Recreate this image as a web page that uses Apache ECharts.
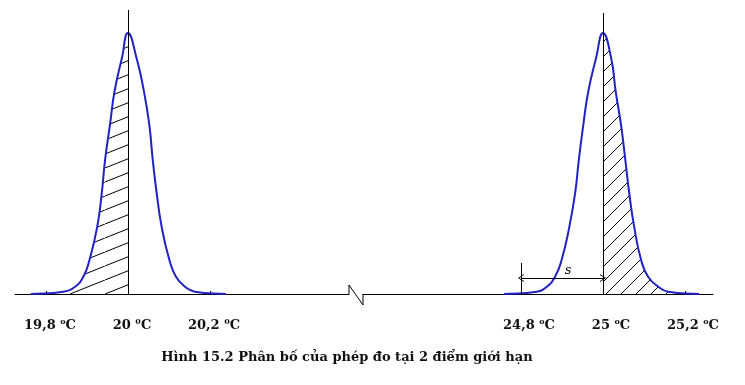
<!DOCTYPE html>
<html>
<head>
<meta charset="utf-8">
<script src="https://cdn.jsdelivr.net/npm/echarts@6/dist/echarts.min.js"></script>
<style>html,body{margin:0;padding:0;background:#fff}#c{width:745px;height:385px}</style>
</head>
<body>
<div id="c"></div>
<script>
// ---- data ----
const leftTemps  = [19.763, 19.842, 19.871, 19.891, 19.906, 19.925, 19.936, 19.944, 19.956, 19.967, 19.985, 20.000,
                    20.021, 20.039, 20.052, 20.060, 20.070, 20.082, 20.101, 20.117, 20.139, 20.163, 20.239];
const leftHeights = [0, 0.009, 0.028, 0.066, 0.130, 0.258, 0.386, 0.513, 0.648, 0.775, 0.903, 1.000,
                    0.903, 0.775, 0.648, 0.520, 0.386, 0.258, 0.130, 0.066, 0.028, 0.009, 0];
const rightTemps = [24.759, 24.838, 24.863, 24.883, 24.899, 24.918, 24.932, 24.941, 24.952, 24.964, 24.983, 25.000,
                    25.020, 25.031, 25.044, 25.054, 25.064, 25.076, 25.093, 25.110, 25.135, 25.159, 25.234];
const rightHeights = [0, 0.009, 0.028, 0.066, 0.130, 0.258, 0.386, 0.513, 0.648, 0.775, 0.903, 1.000,
                    0.903, 0.775, 0.648, 0.520, 0.386, 0.258, 0.130, 0.066, 0.028, 0.009, 0];
const tickValuesA = [19.8, 20, 20.2];
const tickTextA   = ['19,8', '20', '20,2'];
const tickSupA    = ['o', '0', '0'];
const tickValuesB = [24.8, 25, 25.2];
const tickTextB   = ['24,8', '25', '25,2'];
const tickSupB    = ['o', 'o', 'o'];
const centerA = 20, centerB = 25;
const sFrom = 24.8, sTo = 25, sArrowH = 0.061, sBarH = 0.119;
const caption = 'Hình 15.2 Phân bố của phép đo tại 2 điểm giới hạn';

// ---- layout ----
const PX = 410;            // px per degree
const BASE = 294;          // baseline y
const PEAK_PX = 261;       // peak height px
const A = {left: 15, right: 349, top: 10, center: 128};
const B = {left: 363, right: 713, top: 13, center: 603};
const FONT = 'DejaVu Serif';
const BLUE = '#2222c4';
const SMOOTH = 0.5;

function hatch(w, h) {
  const c = document.createElement('canvas'); c.width = w; c.height = h;
  const ctx = c.getContext('2d');
  ctx.strokeStyle = '#000'; ctx.lineWidth = 1;
  ctx.beginPath(); ctx.moveTo(-w, 2 * h); ctx.lineTo(2 * w, -h); ctx.stroke();
  return c;
}
const hatchA = {image: hatch(35, 14), repeat: 'repeat'};
const hatchB = {image: hatch(15, 15), repeat: 'repeat'};

const pairs = (xs, ys) => xs.map((x, i) => [x, ys[i]]);
const leftData = pairs(leftTemps, leftHeights);
const rightData = pairs(rightTemps, rightHeights);

// spline control points in pixel space
function ctrl(pts, s) {
  const n = pts.length, out = [];
  for (let i = 0; i < n; i++) {
    const p = pts[i], pr = pts[Math.max(0, i - 1)], nx = pts[Math.min(n - 1, i + 1)];
    const vx = (nx[0] - pr[0]) * s, vy = (nx[1] - pr[1]) * s;
    let d0 = Math.hypot(p[0] - pr[0], p[1] - pr[1]), d1 = Math.hypot(nx[0] - p[0], nx[1] - p[1]);
    const sum = d0 + d1; if (sum) { d0 /= sum; d1 /= sum; }
    out.push({inp: [p[0] - vx * d0, p[1] - vy * d0], outp: [p[0] + vx * d1, p[1] + vy * d1]});
  }
  return out;
}
const f = p => p[0].toFixed(2) + ' ' + p[1].toFixed(2);
function segs(pts, cps, from, to) {
  let d = '';
  for (let i = from; i < to; i++) d += ' C ' + f(cps[i].outp) + ' ' + f(cps[i + 1].inp) + ' ' + f(pts[i + 1]);
  return d;
}
function makeRender(temps, heights, center, side, pattern) {
  return function (params, api) {
    if (params.dataIndex !== 0) return null;
    const pts = temps.map((t, i) => api.coord([t, heights[i]]));
    const cps = ctrl(pts, SMOOTH);
    const n = pts.length;
    const ci = temps.indexOf(center);
    const baseY = api.coord([center, 0])[1];
    const curve = 'M ' + f(pts[0]) + segs(pts, cps, 0, n - 1);
    let area;
    if (side === 'left') {
      area = 'M ' + f(pts[0]) + segs(pts, cps, 0, ci) + ' L ' + f([pts[ci][0], baseY]) + ' L ' + f([pts[0][0], baseY]) + ' Z';
    } else {
      area = 'M ' + f([pts[ci][0], baseY]) + ' L ' + f(pts[ci]) + segs(pts, cps, ci, n - 1) + ' L ' + f([pts[n - 1][0], baseY]) + ' Z';
    }
    return {type: 'group', children: [
      {type: 'path', shape: {pathData: area}, style: {fill: pattern, stroke: null}},
      {type: 'path', shape: {pathData: curve}, style: {fill: null, stroke: BLUE, lineWidth: 2}}
    ]};
  };
}

function labelFmt(vals, txt, sup) {
  return v => {
    let i = vals.findIndex(t => Math.abs(t - v) < 1e-6);
    if (i < 0) return '';
    return '{n|' + txt[i] + ' }{s|' + sup[i] + '}{n|C}';
  };
}
const rich = {
  n: {fontFamily: FONT, fontWeight: 'bold', fontSize: 13, color: '#111', lineHeight: 16},
  s: {fontFamily: FONT, fontWeight: 'bold', fontSize: 8, color: '#111', lineHeight: 16, verticalAlign: 'top'}
};

function xAxisFor(g, center, idx, vals, txt, sup, tickVals, padL) {
  return {
    type: 'value', gridIndex: idx,
    min: center - (g.center - g.left) / PX,
    max: center + (g.right - g.center) / PX,
    splitLine: {show: false},
    axisLine: {show: true, onZero: false, lineStyle: {color: '#000', width: 1}},
    axisTick: {show: true, inside: true, length: 3, customValues: tickVals, lineStyle: {color: '#000'}},
    axisLabel: {show: true, customValues: vals, formatter: labelFmt(vals, txt, sup), rich: rich,
                margin: 24, padding: [0, 0, 0, padL]}
  };
}

const chevron = 'path://M5,0 L10,9 L8.8,9 L5,2.2 L1.2,9 L0,9 Z';

const left = {
  type: 'custom', xAxisIndex: 0, yAxisIndex: 0, data: leftData, encode: {x: 0, y: 1}, clip: false, silent: true, z: 3,
  renderItem: makeRender(leftTemps, leftHeights, centerA, 'left', hatchA),
  markLine: {silent: true, symbol: ['none', 'none'], label: {show: false},
    lineStyle: {color: '#000', width: 1, type: 'solid'}, data: [{xAxis: centerA}]}
};
const right = {
  type: 'custom', xAxisIndex: 1, yAxisIndex: 1, data: rightData, encode: {x: 0, y: 1}, clip: false, silent: true, z: 3,
  renderItem: makeRender(rightTemps, rightHeights, centerB, 'right', hatchB),
  markLine: {silent: true, symbol: ['none', 'none'], label: {show: false},
    lineStyle: {color: '#000', width: 1, type: 'solid'},
    data: [
      {xAxis: centerB},
      [{coord: [sFrom, 0], symbol: 'none'}, {coord: [sFrom, sBarH], symbol: 'none'}],
      [{coord: [sFrom, sArrowH], symbol: chevron, symbolSize: [8, 6],
        label: {show: true, position: 'middle', formatter: 's', fontFamily: FONT, fontStyle: 'italic', fontSize: 13, color: '#111', distance: 1, offset: [6, 0]}},
       {coord: [sTo, sArrowH], symbol: chevron, symbolSize: [8, 6]}]
    ]}
};

const option = {
  animation: false,
  backgroundColor: '#fff',
  grid: [
    {left: A.left, width: A.right - A.left, top: A.top, bottom: 385 - BASE},
    {left: B.left, width: B.right - B.left, top: B.top, bottom: 385 - BASE}
  ],
  xAxis: [
    xAxisFor(A, centerA, 0, tickValuesA, tickTextA, tickSupA, [19.8, 20.2], 8),
    xAxisFor(B, centerB, 1, tickValuesB, tickTextB, tickSupB, [25.2], 16)
  ],
  yAxis: [
    {type: 'value', gridIndex: 0, show: false, min: 0, max: (BASE - A.top) / PEAK_PX},
    {type: 'value', gridIndex: 1, show: false, min: 0, max: (BASE - B.top) / PEAK_PX}
  ],
  series: [left, right],
  graphic: [
    {type: 'polyline', silent: true, z: 10,
     shape: {points: [[A.right, BASE], [A.right, BASE - 9], [B.left, BASE + 11], [B.left, BASE]]},
     style: {stroke: '#000', lineWidth: 1, fill: null}},
    {type: 'text', silent: true, x: 347, y: 358,
     style: {text: caption, font: 'bold 13px "DejaVu Serif"', fill: '#111', textAlign: 'center', textVerticalAlign: 'middle'}}
  ]
};
const chart = echarts.init(document.getElementById('c'), null, {renderer: 'canvas'});
chart.setOption(option);
</script>
</body>
</html>
